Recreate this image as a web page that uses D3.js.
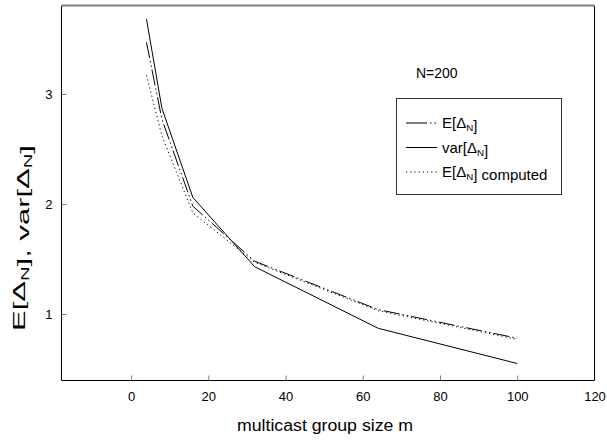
<!doctype html>
<html>
<head>
<meta charset="utf-8">
<script src="https://cdn.jsdelivr.net/npm/d3@7"></script>
<style>
  body { margin: 0; background: #fff; }
  svg { display: block; font-family: "Liberation Sans", Arial, sans-serif; }
</style>
</head>
<body>
<script>
// group sizes and the three measured curves
const groupSize = [4, 8, 16, 32, 64, 100];
const eDelta = [3.47, 2.77, 1.98, 1.48, 1.04, 0.78];
const varDelta = [3.68, 2.87, 2.06, 1.43, 0.87, 0.55];
const eComputed = [3.17, 2.62, 1.92, 1.47, 1.03, 0.77];

const xTicks = [0, 20, 40, 60, 80, 100, 120];
const yTicks = [1, 2, 3];

const width = 607, height = 441;
const svg = d3.select("body").append("svg")
    .attr("width", width)
    .attr("height", height);

const x = d3.scaleLinear().domain([-18, 120]).range([61.5, 594.5]);
const y = d3.scaleLinear().domain([0.4, 3.8]).range([380, 6]);

// frame: top in gray, the rest black
svg.append("line")
    .attr("x1", x.range()[0]).attr("x2", x.range()[1])
    .attr("y1", 5.5).attr("y2", 5.5)
    .attr("stroke", "#808080").attr("stroke-width", 2);
svg.append("path")
    .attr("d", `M${x.range()[0]},6V380.5H${x.range()[1]}V6`)
    .attr("fill", "none").attr("stroke", "#000");

const xAxis = svg.append("g")
    .attr("transform", "translate(0,380.5)")
    .call(d3.axisBottom(x).tickValues(xTicks).tickSize(-5).tickPadding(11));
const yAxis = svg.append("g")
    .attr("transform", `translate(${x.range()[0]},0)`)
    .call(d3.axisLeft(y).tickValues(yTicks).tickFormat(d3.format("d")).tickSize(-5).tickPadding(9));

for (const g of [xAxis, yAxis]) {
  g.select(".domain").remove();
  g.selectAll(".tick line").attr("stroke", "#808080");
  g.selectAll(".tick text")
      .attr("font-size", 13)
      .attr("font-family", "Liberation Sans, Arial, sans-serif")
      .attr("fill", "#000");
}
// no tick mark on the right edge
xAxis.selectAll(".tick").filter(d => d === 120).select("line").remove();

const line = d3.line()
    .x((d, i) => x(groupSize[i]))
    .y(d => y(d));

const series = [
  {name: "E", values: eDelta, dash: "16,3,1.5,3,1.5,3"},
  {name: "var", values: varDelta, dash: null},
  {name: "Ecomp", values: eComputed, dash: "1.2,3"}
];

svg.append("g")
  .selectAll("path")
  .data(series)
  .join("path")
    .attr("d", d => line(d.values))
    .attr("fill", "none")
    .attr("stroke", "#000")
    .attr("stroke-width", 1)
    .attr("stroke-dasharray", d => d.dash);

// text with subscript N parts
function subText(sel, parts) {
  for (const p of parts) {
    if (p.sub) {
      sel.append("tspan").attr("font-size", "0.65em").attr("dy", "0.35em").text(p.sub);
      sel.append("tspan").attr("dy", "-0.35em").text("");
    } else {
      sel.append("tspan").text(p.t);
    }
  }
}

svg.append("text")
    .attr("x", 416).attr("y", 78)
    .attr("font-size", 14)
    .text("N=200");

// legend
const legend = svg.append("g");
legend.append("rect")
    .attr("x", 396.5).attr("y", 98.5)
    .attr("width", 165).attr("height", 96)
    .attr("fill", "#fff").attr("stroke", "#333");

const legendLabels = [
  [{t: "E[Δ"}, {sub: "N"}, {t: "]"}],
  [{t: "var[Δ"}, {sub: "N"}, {t: "]"}],
  [{t: "E[Δ"}, {sub: "N"}, {t: "] computed"}]
];
series.forEach((s, i) => {
  const ly = 123 + i * 24.5;
  legend.append("line")
      .attr("x1", 406).attr("x2", 437)
      .attr("y1", ly).attr("y2", ly)
      .attr("stroke", "#000")
      .attr("stroke-dasharray", i === 0 ? "21,3,1.5,3,1.5,3" : s.dash);
  const t = legend.append("text")
      .attr("x", 442).attr("y", ly + 5)
      .attr("font-size", 15);
  subText(t, legendLabels[i]);
});

// axis titles
svg.append("text")
    .attr("x", 325).attr("y", 431)
    .attr("text-anchor", "middle")
    .attr("font-size", 16)
    .attr("textLength", 176)
    .attr("lengthAdjust", "spacingAndGlyphs")
    .text("multicast group size m");

const yl = svg.append("text")
    .attr("transform", "translate(25,238) rotate(-90)")
    .attr("text-anchor", "middle")
    .attr("font-size", 16)
    .attr("textLength", 186)
    .attr("lengthAdjust", "spacingAndGlyphs");
subText(yl, [{t: "E[Δ"}, {sub: "N"}, {t: "], var[Δ"}, {sub: "N"}, {t: "]"}]);
</script>
</body>
</html>
